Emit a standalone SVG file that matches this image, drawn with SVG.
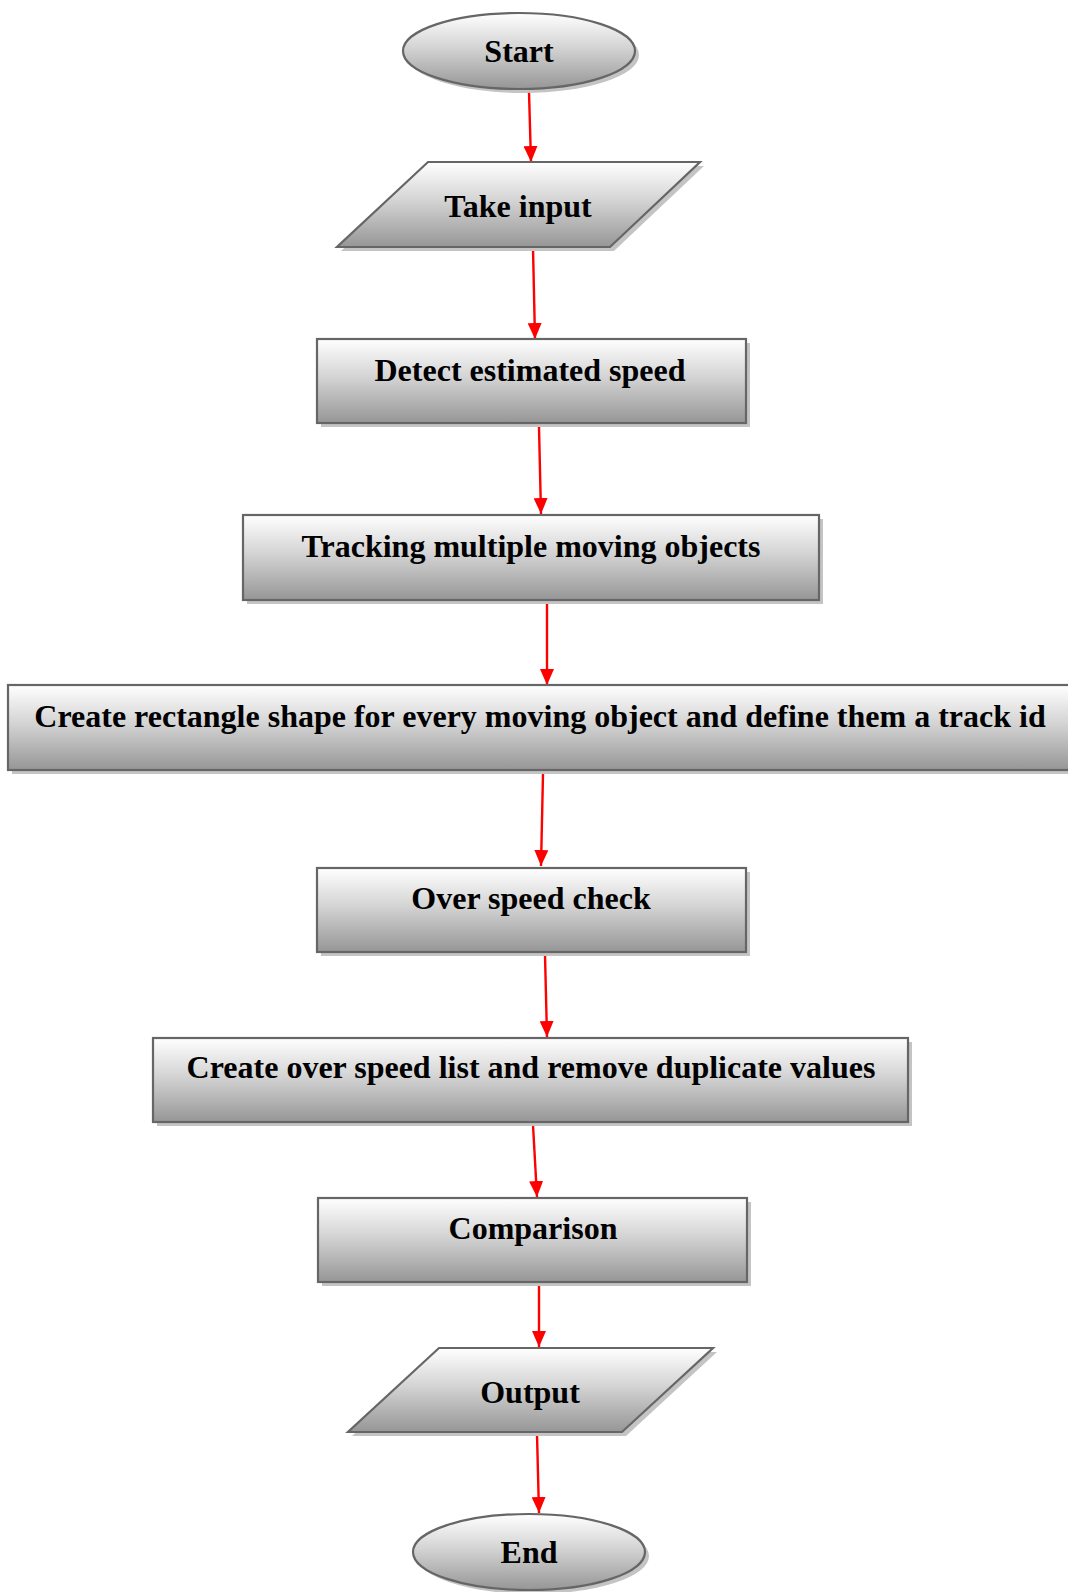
<svg xmlns="http://www.w3.org/2000/svg" width="1068" height="1592" viewBox="0 0 1068 1592">
<defs>
<linearGradient id="g" x1="0" y1="0" x2="0" y2="1">
<stop offset="0" stop-color="#ffffff"/>
<stop offset="0.45" stop-color="#d4d4d4"/>
<stop offset="1" stop-color="#969696"/>
</linearGradient>
<marker id="ah" markerUnits="userSpaceOnUse" markerWidth="16" markerHeight="14" refX="16" refY="7" orient="auto">
<path d="M0,0 L16,7 L0,14 z" fill="#ff0000"/>
</marker>
</defs>
<style>
.sh{fill:#c4c4c4;stroke:none}
.nd{fill:url(#g);stroke:#666666;stroke-width:2.2}
.lb{font-family:"Liberation Serif","Times New Roman",serif;font-weight:bold;font-size:32px;fill:#000;text-anchor:middle}
.cn{stroke:#ff0000;stroke-width:2.4;fill:none;marker-end:url(#ah)}
</style>
<g id="connectors">
<line class="cn" x1="529" y1="92" x2="531" y2="162"/>
<line class="cn" x1="533" y1="248" x2="535" y2="339"/>
<line class="cn" x1="539" y1="427" x2="541" y2="514"/>
<line class="cn" x1="547" y1="604" x2="547" y2="685"/>
<line class="cn" x1="543" y1="774" x2="541" y2="866"/>
<line class="cn" x1="545" y1="955" x2="547" y2="1037"/>
<line class="cn" x1="533" y1="1125" x2="537" y2="1197"/>
<line class="cn" x1="539" y1="1285" x2="539" y2="1347"/>
<line class="cn" x1="537" y1="1434" x2="539" y2="1513"/>
</g>
<g id="start">
<ellipse class="sh" cx="523" cy="55" rx="116" ry="38"/>
<ellipse class="nd" cx="519" cy="51" rx="116" ry="38"/>
<text class="lb" x="519" y="62">Start</text>
</g>
<g id="take-input">
<polygon class="sh" points="432,166 704,166 614,251 341,251"/>
<polygon class="nd" points="428,162 700,162 610,247 337,247"/>
<text class="lb" x="518" y="217">Take input</text>
</g>
<g id="detect-speed">
<rect class="sh" x="321" y="343" width="429" height="84"/>
<rect class="nd" x="317" y="339" width="429" height="84"/>
<text class="lb" x="530" y="381">Detect estimated speed</text>
</g>
<g id="tracking">
<rect class="sh" x="247" y="519" width="576" height="85"/>
<rect class="nd" x="243" y="515" width="576" height="85"/>
<text class="lb" x="531" y="557">Tracking multiple moving objects</text>
</g>
<g id="create-rect">
<rect class="sh" x="12" y="689" width="1070" height="85"/>
<rect class="nd" x="8" y="685" width="1070" height="85"/>
<text class="lb" x="540" y="727">Create rectangle shape for every moving object and define them a track id</text>
</g>
<g id="over-speed-check">
<rect class="sh" x="321" y="872" width="429" height="84"/>
<rect class="nd" x="317" y="868" width="429" height="84"/>
<text class="lb" x="531" y="909">Over speed check</text>
</g>
<g id="over-speed-list">
<rect class="sh" x="157" y="1042" width="755" height="84"/>
<rect class="nd" x="153" y="1038" width="755" height="84"/>
<text class="lb" x="531" y="1078">Create over speed list and remove duplicate values</text>
</g>
<g id="comparison">
<rect class="sh" x="322" y="1202" width="429" height="84"/>
<rect class="nd" x="318" y="1198" width="429" height="84"/>
<text class="lb" x="533" y="1239">Comparison</text>
</g>
<g id="output">
<polygon class="sh" points="443,1352 717,1352 626,1436 352,1436"/>
<polygon class="nd" points="439,1348 713,1348 622,1432 348,1432"/>
<text class="lb" x="530" y="1403">Output</text>
</g>
<g id="end">
<ellipse class="sh" cx="533" cy="1556" rx="116" ry="38"/>
<ellipse class="nd" cx="529" cy="1552" rx="116" ry="38"/>
<text class="lb" x="529" y="1563">End</text>
</g>
</svg>
